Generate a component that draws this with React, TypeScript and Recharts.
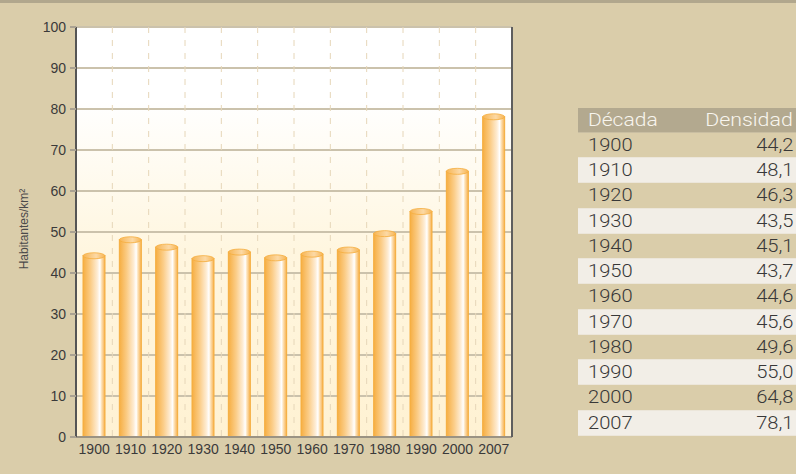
import React from 'react';
import { BarChart, Bar, XAxis, YAxis, CartesianGrid, Label } from 'recharts';

const decades = ['1900', '1910', '1920', '1930', '1940', '1950', '1960', '1970', '1980', '1990', '2000', '2007'];
const density = [44.2, 48.1, 46.3, 43.5, 45.1, 43.7, 44.6, 45.6, 49.6, 55.0, 64.8, 78.1];
const yTicks = [0, 10, 20, 30, 40, 50, 60, 70, 80, 90, 100];
const tableHeader = ['Década', 'Densidad'];

const data = decades.map((d, i) => ({ decade: d, value: density[i] }));

const fmt = (v: number) => v.toFixed(1).replace('.', ',');

const FONT = '"Liberation Sans", Arial, sans-serif';
const TABLE_FONT = 'Roboto, "Liberation Sans", Arial, sans-serif';

// cylinder-like bar: gradient body plus an elliptical cap
const Cylinder = (props: any) => {
  const { x, y, width, height } = props;
  if (!height || height <= 0) return null;
  return (
    <g>
      <rect x={x} y={y} width={width} height={height} fill="url(#barGrad)" stroke="#f5ad3e" strokeWidth={1} />
      <ellipse cx={x + width / 2} cy={y} rx={width / 2} ry={3} fill="url(#capGrad)" stroke="#f5ad3e" strokeWidth={0.8} />
    </g>
  );
};

const YLabel = (props: any) => {
  const { viewBox } = props;
  const cx = 23.5;
  const cy = viewBox.y + viewBox.height / 2 - 3;
  return (
    <text
      x={cx}
      y={cy}
      transform={`rotate(-90, ${cx}, ${cy})`}
      textAnchor="middle"
      dominantBaseline="central"
      fontSize={12}
      fontFamily={FONT}
      fill="#4a4a4a"
    >
      Habitantes/km²
    </text>
  );
};

const cell = (side: 'left' | 'right', sx: number): React.CSSProperties => ({
  marginLeft: side === 'left' ? 10 : 0,
  marginRight: side === 'right' ? 15 : 0,
  display: 'inline-block',
  transform: `scaleX(${sx})`,
  transformOrigin: `${side} center`,
});

const App: React.FC = () => {
  const rowH = 25.25;
  return (
    <div
      style={{
        position: 'absolute',
        left: 0,
        top: 0,
        width: 796,
        height: 474,
        background: '#dacdaa',
        overflow: 'hidden',
        fontFamily: FONT,
      }}
    >
      <div style={{ position: 'absolute', left: 0, top: 0, width: 796, height: 3, background: '#b1a78d' }} />

      <BarChart width={796} height={474} data={data} margin={{ top: 27, right: 274, bottom: 0, left: 0 }} barSize={22}>
        <defs>
          <linearGradient id="plotBg" x1="0" y1="0" x2="0" y2="1">
            <stop offset="0%" stopColor="#ffffff" />
            <stop offset="18%" stopColor="#ffffff" />
            <stop offset="55%" stopColor="#fff6df" />
            <stop offset="100%" stopColor="#fff2d3" />
          </linearGradient>
          <linearGradient id="barGrad" x1="0" y1="0" x2="1" y2="0">
            <stop offset="0%" stopColor="#f6ae42" />
            <stop offset="35%" stopColor="#fbcd88" />
            <stop offset="65%" stopColor="#feecd3" />
            <stop offset="77%" stopColor="#ffffff" />
            <stop offset="84%" stopColor="#fde3bb" />
            <stop offset="93%" stopColor="#f9c57a" />
            <stop offset="100%" stopColor="#f6b04a" />
          </linearGradient>
          <linearGradient id="capGrad" x1="0" y1="0" x2="1" y2="0">
            <stop offset="0%" stopColor="#f7b553" />
            <stop offset="60%" stopColor="#fcd9a5" />
            <stop offset="100%" stopColor="#f7b553" />
          </linearGradient>
        </defs>
        <CartesianGrid fill="url(#plotBg)" stroke="#cbc2ac" strokeWidth={2} vertical={false} />
        <CartesianGrid
          horizontal={false}
          stroke="#e6d6b8"
          strokeWidth={1}
          strokeDasharray="6 7"
          verticalCoordinatesGenerator={({ offset }: any) =>
            decades.slice(1).map((_, i) => offset.left + ((i + 1) * offset.width) / decades.length)
          }
        />
        <XAxis
          dataKey="decade"
          height={37}
          axisLine={{ stroke: '#9b9383', strokeWidth: 2 }}
          tickLine={false}
          tickSize={0}
          tickMargin={7}
          tick={{ fontSize: 14, fill: '#3a3a3a', fontFamily: FONT }}
          interval={0}
        />
        <YAxis
          width={76}
          domain={[0, 100]}
          ticks={yTicks}
          interval={0}
          axisLine={{ stroke: '#555', strokeWidth: 2 }}
          tickLine={{ stroke: '#aaa292', strokeWidth: 2 }}
          tickSize={6}
          tickMargin={4}
          tick={{ fontSize: 14, fill: '#3a3a3a', fontFamily: FONT }}
        >
          <Label content={<YLabel />} />
        </YAxis>
        <YAxis
          yAxisId="r"
          orientation="right"
          width={10}
          domain={[0, 100]}
          ticks={yTicks}
          interval={0}
          axisLine={{ stroke: '#5e5e5e', strokeWidth: 2 }}
          tickLine={{ stroke: '#b5ad9b', strokeWidth: 2 }}
          tickSize={5}
          tick={false}
        />
        <Bar dataKey="value" shape={<Cylinder />} isAnimationActive={false} />
      </BarChart>

      <div style={{ position: 'absolute', left: 578, top: 107.5, width: 230, fontFamily: TABLE_FONT, fontWeight: 300 }}>
        <div
          style={{
            height: rowH,
            background: '#b3a98f',
            color: '#f8f5ee',
            display: 'flex',
            justifyContent: 'space-between',
            alignItems: 'center',
            fontSize: 17.5,
            boxSizing: 'border-box',
            borderBottom: '1px solid #c9bea2',
          }}
        >
          <span style={cell('left', 1.2)}>{tableHeader[0]}</span>
          <span style={cell('right', 1.22)}>{tableHeader[1]}</span>
        </div>
        {decades.map((d, i) => (
          <div
            key={d}
            style={{
              height: rowH,
              background: i % 2 === 0 ? '#dacdaa' : '#f2eee7',
              color: '#383838',
              display: 'flex',
              justifyContent: 'space-between',
              alignItems: 'center',
              fontSize: 17.5,
              boxSizing: 'border-box',
              borderBottom: '1px solid #ece6da',
            }}
          >
            <span style={cell('left', 1.15)}>{d}</span>
            <span style={cell('right', 1.15)}>{fmt(density[i])}</span>
          </div>
        ))}
      </div>
    </div>
  );
};

export default App;
